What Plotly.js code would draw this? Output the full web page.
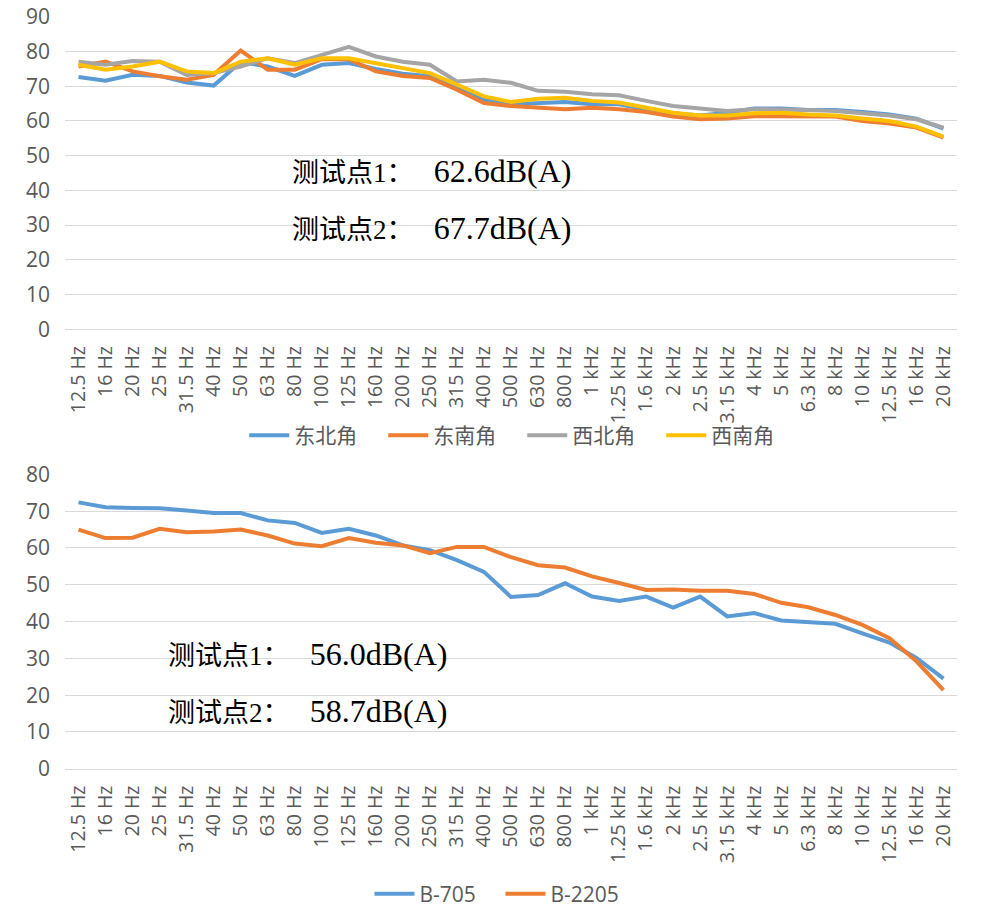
<!DOCTYPE html>
<html>
<head>
<meta charset="utf-8">
<script src="https://cdn.plot.ly/plotly-3.0.1.min.js"></script>
<style>
  html, body { margin: 0; padding: 0; background: #fff; }
  #chart { width: 991px; height: 915px; }
</style>
</head>
<body>
<div id="chart"></div>
<script>
// 1/3 octave band centre frequencies
const freqs = ['12.5 Hz','16 Hz','20 Hz','25 Hz','31.5 Hz','40 Hz','50 Hz','63 Hz','80 Hz','100 Hz',
  '125 Hz','160 Hz','200 Hz','250 Hz','315 Hz','400 Hz','500 Hz','630 Hz','800 Hz','1 kHz',
  '1.25 kHz','1.6 kHz','2 kHz','2.5 kHz','3.15 kHz','4 kHz','5 kHz','6.3 kHz','8 kHz','10 kHz',
  '12.5 kHz','16 kHz','20 kHz'];

// top chart, four corners
const northEast = [72.7,71.6,73.3,73.0,71.1,70.2,77.0,75.7,73.0,76.2,76.7,75.0,73.6,72.9,69.5,66.2,64.8,
  65.1,65.5,64.8,64.8,63.4,62.2,61.6,62.4,63.6,63.6,63.2,63.2,62.6,61.9,60.7,57.8];
const southEast = [75.7,77.1,74.3,72.9,71.9,73.3,80.3,74.8,74.8,77.8,77.8,74.3,73.0,72.4,69.0,65.2,64.3,
  63.8,63.4,63.8,63.4,62.6,61.3,60.5,60.7,61.4,61.4,61.3,61.3,60.0,59.3,58.1,55.2];
const northWest = [77.1,76.2,77.3,77.1,73.3,73.8,75.7,78.1,76.7,79.0,81.4,78.6,77.1,76.2,71.4,71.9,71.0,
  68.7,68.4,67.7,67.4,65.8,64.3,63.6,62.9,63.4,63.4,63.2,62.9,62.2,61.6,60.5,58.1];
const southWest = [76.2,74.8,75.7,77.1,74.3,73.8,77.1,78.1,76.2,78.1,78.1,76.7,75.2,73.8,70.5,67.1,65.5,
  66.4,66.7,65.8,65.3,63.8,62.4,61.6,61.6,62.2,62.4,61.9,61.6,60.7,60.0,58.4,55.5];

// bottom chart, two rooms
const b705 = [72.4,71.1,70.9,70.8,70.2,69.5,69.5,67.5,66.8,64.1,65.2,63.4,60.7,59.4,56.7,53.5,46.7,
  47.2,50.4,46.8,45.6,46.8,43.8,46.8,41.4,42.3,40.3,39.8,39.4,36.8,34.3,30.1,24.5];
const b2205 = [65.0,62.7,62.8,65.2,64.3,64.5,65.0,63.4,61.2,60.5,62.7,61.4,60.7,58.6,60.3,60.3,57.5,
  55.3,54.7,52.3,50.5,48.6,48.7,48.4,48.4,47.5,45.1,43.9,41.8,39.1,35.5,29.2,21.4];

const topNames = ['东北角','东南角','西北角','西南角'];
const bottomNames = ['B-705','B-2205'];
const topNotes = ['62.6dB(A)','67.7dB(A)'];
const bottomNotes = ['56.0dB(A)','58.7dB(A)'];

const blue = '#5B9BD5', orange = '#ED7D31', gray = '#A5A5A5', yellow = '#FFC000';
const grid = '#d9d9d9', txt = '#595959';
const sans = 'Open Sans, Noto Sans CJK SC, sans-serif';
const serif = 'Liberation Serif, Noto Sans CJK SC, serif';

function line(y, name, color, xa, ya, lg) {
  return {
    x: freqs, y: y, name: name, type: 'scatter', mode: 'lines',
    line: { color: color, width: 4 },
    xaxis: xa, yaxis: ya, legend: lg
  };
}

const data = [
  line(northEast, topNames[0], blue, 'x', 'y', 'legend'),
  line(southEast, topNames[1], orange, 'x', 'y', 'legend'),
  line(northWest, topNames[2], gray, 'x', 'y', 'legend'),
  line(southWest, topNames[3], yellow, 'x', 'y', 'legend'),
  line(b705, bottomNames[0], blue, 'x2', 'y2', 'legend2'),
  line(b2205, bottomNames[1], orange, 'x2', 'y2', 'legend2')
];

const xBase = {
  type: 'category', range: [-0.5, freqs.length - 0.5],
  showgrid: false, zeroline: false,
  showline: true, linecolor: grid, linewidth: 1,
  ticks: '', tickangle: -90, ticklabelstandoff: 8,
  tickfont: { family: sans, size: 19.5, color: txt },
  domain: [65 / 991, 957 / 991]
};
const yBase = {
  dtick: 10, showgrid: true, gridcolor: grid, gridwidth: 1,
  zeroline: false, showline: false, ticks: '', ticklabelstandoff: 14,
  tickfont: { family: sans, size: 21, color: txt }
};

function note(label, value, x, y) {
  return {
    xref: 'paper', yref: 'paper', x: x / 991, y: 1 - y / 915,
    xanchor: 'left', yanchor: 'middle', showarrow: false,
    text: label + '\u00a0\u00a0 <span style="font-size:32px">' + value + '</span>',
    font: { family: serif, size: 27, color: '#000' }
  };
}

const legendBase = {
  orientation: 'h', xanchor: 'center', yanchor: 'middle', bgcolor: 'rgba(0,0,0,0)',
  font: { family: sans, size: 21, color: txt }, itemwidth: 40
};

const layout = {
  width: 991, height: 915,
  margin: { l: 0, r: 0, t: 0, b: 0 },
  paper_bgcolor: '#fff', plot_bgcolor: '#fff',
  showlegend: true,
  xaxis: Object.assign({}, xBase, { anchor: 'y' }),
  yaxis: Object.assign({}, yBase, { range: [0, 90], domain: [1 - 331 / 915, 1 - 17 / 915], anchor: 'x' }),
  xaxis2: Object.assign({}, xBase, { anchor: 'y2' }),
  yaxis2: Object.assign({}, yBase, { range: [0, 80], domain: [1 - 773 / 915, 1 - 477 / 915], anchor: 'x2' }),
  legend: Object.assign({}, legendBase, { x: 0.527, y: 1 - 438 / 915, entrywidth: 84 }),
  legend2: Object.assign({}, legendBase, { x: 0.505, y: 1 - 899 / 915, entrywidth: 76 }),
  annotations: [
    note('测试点1：', topNotes[0], 290, 172),
    note('测试点2：', topNotes[1], 290, 229),
    note('测试点1：', bottomNotes[0], 166, 658),
    note('测试点2：', bottomNotes[1], 166, 715)
  ]
};

Plotly.newPlot('chart', data, layout, { displayModeBar: false, staticPlot: true });
</script>
</body>
</html>
